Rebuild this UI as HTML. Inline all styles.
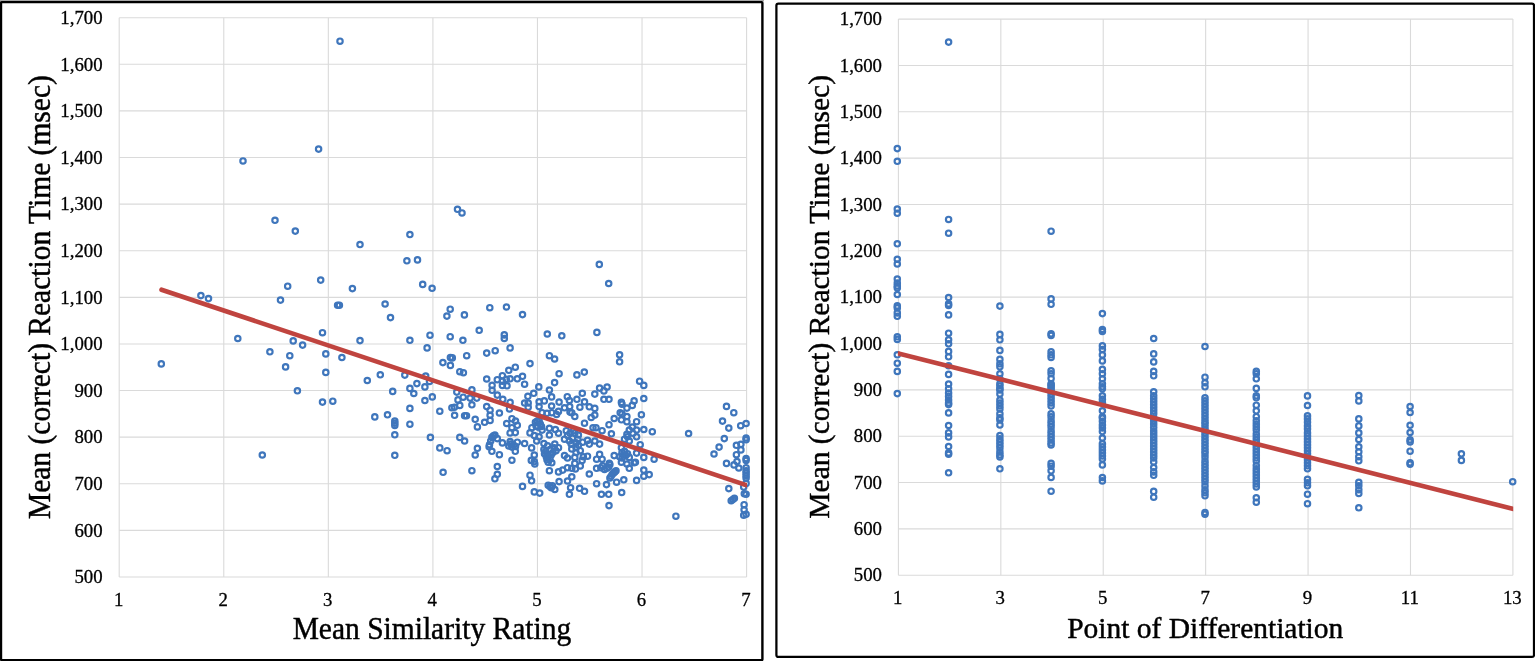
<!DOCTYPE html>
<html lang="en"><head><meta charset="utf-8"><title>Reaction time scatter plots</title>
<style>
html,body{margin:0;padding:0;background:#fff;}
body{width:1535px;height:661px;overflow:hidden;}
svg{display:block;}
text{font-family:"Liberation Serif","Times New Roman",serif;fill:#000;}
.t{font-size:18.8px;stroke:#000;stroke-width:0.3px;}
.ax{font-size:29.5px;stroke:#000;stroke-width:0.45px;}
.g{stroke:#dadada;stroke-width:1.1;fill:none;}
.p circle{fill:none;stroke:#3f76bc;stroke-width:2.15;}
.tr{stroke:#c0443f;stroke-width:4.6;fill:none;}
</style></head><body>
<svg width="1535" height="661" viewBox="0 0 1535 661">
<rect x="0" y="0" width="1535" height="661" fill="#fff"/>
<rect x="0" y="0" width="764" height="1.3" fill="#a6a6a6"/>
<rect x="1.0" y="2.1" width="761.4" height="658.0" rx="0.8" fill="none" stroke="#000" stroke-width="2.4"/>
<rect x="776.4" y="3.5" width="757.6" height="653.4" rx="2" fill="none" stroke="#000" stroke-width="2.25"/>
<g class="g"><line x1="119.20" y1="17.70" x2="119.20" y2="577.00"/><line x1="223.77" y1="17.70" x2="223.77" y2="577.00"/><line x1="328.33" y1="17.70" x2="328.33" y2="577.00"/><line x1="432.90" y1="17.70" x2="432.90" y2="577.00"/><line x1="537.47" y1="17.70" x2="537.47" y2="577.00"/><line x1="642.03" y1="17.70" x2="642.03" y2="577.00"/><line x1="746.60" y1="17.70" x2="746.60" y2="577.00"/><line x1="119.20" y1="17.70" x2="746.60" y2="17.70"/><line x1="119.20" y1="64.31" x2="746.60" y2="64.31"/><line x1="119.20" y1="110.92" x2="746.60" y2="110.92"/><line x1="119.20" y1="157.52" x2="746.60" y2="157.52"/><line x1="119.20" y1="204.13" x2="746.60" y2="204.13"/><line x1="119.20" y1="250.74" x2="746.60" y2="250.74"/><line x1="119.20" y1="297.35" x2="746.60" y2="297.35"/><line x1="119.20" y1="343.96" x2="746.60" y2="343.96"/><line x1="119.20" y1="390.57" x2="746.60" y2="390.57"/><line x1="119.20" y1="437.17" x2="746.60" y2="437.17"/><line x1="119.20" y1="483.78" x2="746.60" y2="483.78"/><line x1="119.20" y1="530.39" x2="746.60" y2="530.39"/><line x1="119.20" y1="577.00" x2="746.60" y2="577.00"/></g>
<g class="t" text-anchor="end"><text transform="translate(102.6,24.00) scale(1,1.020)">1,700</text><text transform="translate(102.6,70.61) scale(1,1.020)">1,600</text><text transform="translate(102.6,117.22) scale(1,1.020)">1,500</text><text transform="translate(102.6,163.82) scale(1,1.020)">1,400</text><text transform="translate(102.6,210.43) scale(1,1.020)">1,300</text><text transform="translate(102.6,257.04) scale(1,1.020)">1,200</text><text transform="translate(102.6,303.65) scale(1,1.020)">1,100</text><text transform="translate(102.6,350.26) scale(1,1.020)">1,000</text><text transform="translate(102.6,396.87) scale(1,1.020)">900</text><text transform="translate(102.6,443.47) scale(1,1.020)">800</text><text transform="translate(102.6,490.08) scale(1,1.020)">700</text><text transform="translate(102.6,536.69) scale(1,1.020)">600</text><text transform="translate(102.6,583.30) scale(1,1.020)">500</text></g>
<g class="t" text-anchor="middle"><text transform="translate(118.6,605.9) scale(1,1.020)">1</text><text transform="translate(223.2,605.9) scale(1,1.020)">2</text><text transform="translate(327.7,605.9) scale(1,1.020)">3</text><text transform="translate(432.3,605.9) scale(1,1.020)">4</text><text transform="translate(536.9,605.9) scale(1,1.020)">5</text><text transform="translate(641.4,605.9) scale(1,1.020)">6</text><text transform="translate(746.0,605.9) scale(1,1.020)">7</text></g>
<text class="ax" text-anchor="middle" transform="translate(431.9,639.3) scale(1,1.035)">Mean Similarity Rating</text>
<text class="ax" text-anchor="middle" transform="translate(50.3,297.1) rotate(-90) scale(1,1.035)">Mean (correct) Reaction Time (msec)</text>
<g class="p"><circle cx="340.0" cy="41.2" r="2.7"/><circle cx="318.6" cy="149.1" r="2.7"/><circle cx="243.0" cy="160.9" r="2.7"/><circle cx="275.0" cy="220.3" r="2.7"/><circle cx="295.3" cy="231.1" r="2.7"/><circle cx="360.0" cy="244.5" r="2.7"/><circle cx="409.9" cy="234.5" r="2.7"/><circle cx="406.9" cy="260.8" r="2.7"/><circle cx="417.5" cy="259.9" r="2.7"/><circle cx="320.7" cy="280.1" r="2.7"/><circle cx="287.7" cy="286.2" r="2.7"/><circle cx="352.4" cy="288.6" r="2.7"/><circle cx="200.9" cy="295.6" r="2.7"/><circle cx="208.5" cy="298.6" r="2.7"/><circle cx="280.5" cy="300.1" r="2.7"/><circle cx="337.6" cy="305.2" r="2.7"/><circle cx="339.4" cy="305.2" r="2.7"/><circle cx="385.1" cy="304.0" r="2.7"/><circle cx="390.5" cy="317.6" r="2.7"/><circle cx="322.5" cy="332.7" r="2.7"/><circle cx="237.8" cy="338.5" r="2.7"/><circle cx="293.2" cy="340.9" r="2.7"/><circle cx="302.6" cy="345.1" r="2.7"/><circle cx="360.0" cy="340.6" r="2.7"/><circle cx="409.9" cy="340.3" r="2.7"/><circle cx="269.9" cy="351.8" r="2.7"/><circle cx="289.8" cy="355.7" r="2.7"/><circle cx="325.8" cy="353.9" r="2.7"/><circle cx="341.9" cy="357.5" r="2.7"/><circle cx="161.3" cy="363.9" r="2.7"/><circle cx="285.6" cy="366.9" r="2.7"/><circle cx="325.8" cy="372.4" r="2.7"/><circle cx="380.3" cy="374.8" r="2.7"/><circle cx="367.3" cy="380.5" r="2.7"/><circle cx="404.8" cy="375.1" r="2.7"/><circle cx="297.4" cy="390.8" r="2.7"/><circle cx="392.7" cy="391.4" r="2.7"/><circle cx="409.9" cy="388.4" r="2.7"/><circle cx="413.8" cy="393.5" r="2.7"/><circle cx="416.9" cy="383.6" r="2.7"/><circle cx="322.5" cy="402.1" r="2.7"/><circle cx="332.8" cy="401.2" r="2.7"/><circle cx="409.9" cy="408.4" r="2.7"/><circle cx="374.8" cy="416.9" r="2.7"/><circle cx="387.5" cy="414.8" r="2.7"/><circle cx="394.8" cy="421.1" r="2.7"/><circle cx="394.8" cy="423.3" r="2.7"/><circle cx="394.8" cy="425.4" r="2.7"/><circle cx="409.9" cy="424.2" r="2.7"/><circle cx="394.8" cy="434.8" r="2.7"/><circle cx="394.8" cy="455.3" r="2.7"/><circle cx="262.3" cy="455.0" r="2.7"/><circle cx="457.5" cy="209.3" r="2.7"/><circle cx="462.0" cy="212.9" r="2.7"/><circle cx="422.7" cy="284.4" r="2.7"/><circle cx="432.1" cy="288.3" r="2.7"/><circle cx="599.3" cy="264.4" r="2.7"/><circle cx="608.7" cy="283.5" r="2.7"/><circle cx="450.2" cy="309.2" r="2.7"/><circle cx="446.9" cy="316.1" r="2.7"/><circle cx="464.4" cy="314.9" r="2.7"/><circle cx="489.8" cy="307.7" r="2.7"/><circle cx="506.5" cy="307.0" r="2.7"/><circle cx="522.5" cy="314.6" r="2.7"/><circle cx="479.2" cy="330.3" r="2.7"/><circle cx="430.0" cy="335.2" r="2.7"/><circle cx="450.2" cy="336.7" r="2.7"/><circle cx="462.9" cy="340.3" r="2.7"/><circle cx="504.3" cy="334.9" r="2.7"/><circle cx="504.3" cy="338.5" r="2.7"/><circle cx="547.3" cy="334.0" r="2.7"/><circle cx="561.8" cy="335.8" r="2.7"/><circle cx="596.9" cy="332.4" r="2.7"/><circle cx="427.1" cy="347.9" r="2.7"/><circle cx="510.1" cy="347.9" r="2.7"/><circle cx="495.2" cy="350.7" r="2.7"/><circle cx="486.7" cy="353.1" r="2.7"/><circle cx="466.7" cy="355.7" r="2.7"/><circle cx="450.4" cy="357.6" r="2.7"/><circle cx="452.3" cy="357.9" r="2.7"/><circle cx="442.9" cy="362.6" r="2.7"/><circle cx="450.4" cy="365.4" r="2.7"/><circle cx="530.0" cy="363.6" r="2.7"/><circle cx="515.3" cy="367.2" r="2.7"/><circle cx="508.8" cy="370.3" r="2.7"/><circle cx="459.8" cy="371.7" r="2.7"/><circle cx="463.4" cy="372.7" r="2.7"/><circle cx="502.4" cy="375.7" r="2.7"/><circle cx="522.5" cy="376.3" r="2.7"/><circle cx="486.7" cy="379.0" r="2.7"/><circle cx="497.3" cy="379.7" r="2.7"/><circle cx="510.1" cy="378.8" r="2.7"/><circle cx="506.4" cy="379.4" r="2.7"/><circle cx="517.3" cy="378.8" r="2.7"/><circle cx="524.6" cy="384.2" r="2.7"/><circle cx="492.1" cy="385.4" r="2.7"/><circle cx="492.1" cy="390.3" r="2.7"/><circle cx="425.7" cy="376.1" r="2.7"/><circle cx="429.5" cy="381.4" r="2.7"/><circle cx="424.9" cy="386.9" r="2.7"/><circle cx="432.3" cy="396.9" r="2.7"/><circle cx="424.9" cy="400.5" r="2.7"/><circle cx="471.9" cy="389.9" r="2.7"/><circle cx="456.8" cy="392.1" r="2.7"/><circle cx="463.2" cy="397.2" r="2.7"/><circle cx="470.1" cy="398.1" r="2.7"/><circle cx="476.8" cy="398.1" r="2.7"/><circle cx="458.0" cy="399.9" r="2.7"/><circle cx="459.8" cy="405.4" r="2.7"/><circle cx="471.9" cy="404.8" r="2.7"/><circle cx="451.9" cy="407.8" r="2.7"/><circle cx="454.4" cy="407.2" r="2.7"/><circle cx="439.8" cy="411.2" r="2.7"/><circle cx="454.6" cy="415.3" r="2.7"/><circle cx="464.6" cy="415.7" r="2.7"/><circle cx="466.5" cy="415.7" r="2.7"/><circle cx="475.2" cy="419.3" r="2.7"/><circle cx="486.7" cy="406.6" r="2.7"/><circle cx="490.1" cy="410.2" r="2.7"/><circle cx="490.1" cy="415.3" r="2.7"/><circle cx="499.4" cy="413.0" r="2.7"/><circle cx="497.3" cy="395.1" r="2.7"/><circle cx="502.8" cy="399.3" r="2.7"/><circle cx="510.1" cy="402.4" r="2.7"/><circle cx="509.5" cy="409.0" r="2.7"/><circle cx="527.9" cy="396.3" r="2.7"/><circle cx="533.7" cy="393.3" r="2.7"/><circle cx="524.6" cy="403.0" r="2.7"/><circle cx="528.2" cy="403.0" r="2.7"/><circle cx="528.2" cy="407.2" r="2.7"/><circle cx="511.9" cy="418.7" r="2.7"/><circle cx="502.4" cy="381.2" r="2.7"/><circle cx="502.4" cy="385.4" r="2.7"/><circle cx="507.0" cy="385.8" r="2.7"/><circle cx="549.4" cy="355.7" r="2.7"/><circle cx="554.6" cy="359.0" r="2.7"/><circle cx="619.6" cy="354.8" r="2.7"/><circle cx="619.6" cy="361.8" r="2.7"/><circle cx="559.1" cy="373.7" r="2.7"/><circle cx="576.9" cy="374.9" r="2.7"/><circle cx="584.3" cy="372.1" r="2.7"/><circle cx="554.6" cy="382.6" r="2.7"/><circle cx="639.6" cy="381.2" r="2.7"/><circle cx="643.8" cy="385.4" r="2.7"/><circle cx="538.8" cy="386.9" r="2.7"/><circle cx="549.4" cy="390.0" r="2.7"/><circle cx="599.6" cy="388.1" r="2.7"/><circle cx="607.1" cy="387.0" r="2.7"/><circle cx="603.9" cy="390.9" r="2.7"/><circle cx="582.3" cy="393.3" r="2.7"/><circle cx="594.8" cy="394.1" r="2.7"/><circle cx="551.6" cy="396.9" r="2.7"/><circle cx="567.3" cy="396.7" r="2.7"/><circle cx="569.4" cy="400.5" r="2.7"/><circle cx="576.9" cy="399.3" r="2.7"/><circle cx="584.5" cy="401.8" r="2.7"/><circle cx="603.9" cy="399.3" r="2.7"/><circle cx="609.0" cy="399.3" r="2.7"/><circle cx="643.8" cy="398.5" r="2.7"/><circle cx="539.1" cy="401.8" r="2.7"/><circle cx="544.3" cy="400.9" r="2.7"/><circle cx="559.1" cy="402.1" r="2.7"/><circle cx="551.6" cy="406.0" r="2.7"/><circle cx="539.1" cy="406.6" r="2.7"/><circle cx="564.5" cy="407.8" r="2.7"/><circle cx="569.7" cy="406.6" r="2.7"/><circle cx="579.9" cy="407.2" r="2.7"/><circle cx="589.3" cy="406.8" r="2.7"/><circle cx="594.8" cy="408.4" r="2.7"/><circle cx="621.4" cy="402.4" r="2.7"/><circle cx="622.0" cy="404.2" r="2.7"/><circle cx="634.1" cy="400.9" r="2.7"/><circle cx="632.3" cy="405.4" r="2.7"/><circle cx="626.9" cy="408.1" r="2.7"/><circle cx="542.1" cy="412.7" r="2.7"/><circle cx="547.0" cy="413.3" r="2.7"/><circle cx="551.8" cy="412.7" r="2.7"/><circle cx="558.5" cy="411.4" r="2.7"/><circle cx="556.6" cy="414.5" r="2.7"/><circle cx="570.0" cy="412.1" r="2.7"/><circle cx="571.8" cy="412.7" r="2.7"/><circle cx="574.8" cy="416.5" r="2.7"/><circle cx="594.8" cy="415.1" r="2.7"/><circle cx="591.2" cy="417.5" r="2.7"/><circle cx="620.2" cy="412.7" r="2.7"/><circle cx="622.0" cy="413.9" r="2.7"/><circle cx="626.9" cy="416.5" r="2.7"/><circle cx="614.2" cy="418.5" r="2.7"/><circle cx="641.4" cy="414.7" r="2.7"/><circle cx="726.5" cy="406.4" r="2.7"/><circle cx="733.8" cy="412.7" r="2.7"/><circle cx="490.1" cy="420.4" r="2.7"/><circle cx="484.6" cy="422.3" r="2.7"/><circle cx="477.4" cy="426.9" r="2.7"/><circle cx="506.7" cy="423.5" r="2.7"/><circle cx="515.5" cy="421.1" r="2.7"/><circle cx="517.3" cy="425.3" r="2.7"/><circle cx="511.9" cy="427.7" r="2.7"/><circle cx="510.1" cy="432.9" r="2.7"/><circle cx="515.3" cy="432.6" r="2.7"/><circle cx="531.9" cy="427.7" r="2.7"/><circle cx="530.0" cy="432.9" r="2.7"/><circle cx="534.3" cy="435.6" r="2.7"/><circle cx="430.4" cy="437.4" r="2.7"/><circle cx="459.8" cy="437.4" r="2.7"/><circle cx="464.6" cy="441.0" r="2.7"/><circle cx="494.9" cy="435.0" r="2.7"/><circle cx="491.9" cy="437.4" r="2.7"/><circle cx="497.3" cy="438.6" r="2.7"/><circle cx="489.5" cy="444.7" r="2.7"/><circle cx="491.9" cy="451.3" r="2.7"/><circle cx="502.4" cy="442.9" r="2.7"/><circle cx="510.1" cy="441.6" r="2.7"/><circle cx="508.8" cy="445.9" r="2.7"/><circle cx="511.9" cy="447.1" r="2.7"/><circle cx="517.3" cy="442.2" r="2.7"/><circle cx="515.5" cy="446.5" r="2.7"/><circle cx="515.3" cy="451.3" r="2.7"/><circle cx="524.6" cy="443.5" r="2.7"/><circle cx="531.6" cy="447.9" r="2.7"/><circle cx="439.8" cy="447.9" r="2.7"/><circle cx="447.1" cy="450.7" r="2.7"/><circle cx="477.4" cy="448.3" r="2.7"/><circle cx="475.2" cy="455.0" r="2.7"/><circle cx="499.4" cy="454.7" r="2.7"/><circle cx="511.9" cy="460.2" r="2.7"/><circle cx="534.3" cy="455.0" r="2.7"/><circle cx="531.3" cy="460.4" r="2.7"/><circle cx="534.3" cy="461.6" r="2.7"/><circle cx="497.3" cy="466.5" r="2.7"/><circle cx="443.1" cy="472.3" r="2.7"/><circle cx="471.9" cy="470.7" r="2.7"/><circle cx="497.3" cy="474.3" r="2.7"/><circle cx="494.9" cy="478.8" r="2.7"/><circle cx="530.0" cy="475.2" r="2.7"/><circle cx="531.6" cy="480.8" r="2.7"/><circle cx="522.5" cy="486.4" r="2.7"/><circle cx="534.3" cy="491.9" r="2.7"/><circle cx="542.1" cy="430.1" r="2.7"/><circle cx="539.1" cy="436.8" r="2.7"/><circle cx="536.7" cy="441.0" r="2.7"/><circle cx="534.8" cy="464.0" r="2.7"/><circle cx="539.7" cy="493.1" r="2.7"/><circle cx="537.3" cy="421.1" r="2.7"/><circle cx="540.3" cy="424.1" r="2.7"/><circle cx="536.1" cy="425.9" r="2.7"/><circle cx="549.4" cy="428.3" r="2.7"/><circle cx="555.4" cy="429.5" r="2.7"/><circle cx="549.4" cy="435.0" r="2.7"/><circle cx="558.5" cy="433.2" r="2.7"/><circle cx="543.9" cy="443.5" r="2.7"/><circle cx="547.6" cy="445.9" r="2.7"/><circle cx="554.8" cy="444.1" r="2.7"/><circle cx="543.9" cy="449.5" r="2.7"/><circle cx="558.5" cy="447.7" r="2.7"/><circle cx="544.5" cy="453.8" r="2.7"/><circle cx="548.2" cy="456.2" r="2.7"/><circle cx="553.0" cy="452.5" r="2.7"/><circle cx="556.0" cy="450.7" r="2.7"/><circle cx="547.0" cy="459.8" r="2.7"/><circle cx="551.8" cy="462.8" r="2.7"/><circle cx="549.4" cy="470.7" r="2.7"/><circle cx="558.5" cy="471.9" r="2.7"/><circle cx="559.1" cy="481.6" r="2.7"/><circle cx="550.0" cy="486.4" r="2.7"/><circle cx="552.4" cy="485.8" r="2.7"/><circle cx="554.8" cy="489.5" r="2.7"/><circle cx="584.5" cy="423.2" r="2.7"/><circle cx="566.3" cy="430.7" r="2.7"/><circle cx="570.0" cy="433.2" r="2.7"/><circle cx="574.8" cy="433.2" r="2.7"/><circle cx="578.4" cy="435.0" r="2.7"/><circle cx="564.5" cy="439.2" r="2.7"/><circle cx="569.4" cy="441.0" r="2.7"/><circle cx="576.0" cy="442.9" r="2.7"/><circle cx="582.7" cy="442.2" r="2.7"/><circle cx="587.5" cy="440.4" r="2.7"/><circle cx="571.8" cy="448.9" r="2.7"/><circle cx="576.0" cy="447.7" r="2.7"/><circle cx="580.3" cy="450.7" r="2.7"/><circle cx="576.0" cy="452.5" r="2.7"/><circle cx="564.5" cy="455.6" r="2.7"/><circle cx="567.5" cy="458.0" r="2.7"/><circle cx="574.8" cy="457.4" r="2.7"/><circle cx="583.3" cy="456.8" r="2.7"/><circle cx="587.5" cy="456.2" r="2.7"/><circle cx="582.1" cy="460.4" r="2.7"/><circle cx="574.8" cy="463.4" r="2.7"/><circle cx="580.3" cy="465.9" r="2.7"/><circle cx="567.5" cy="467.7" r="2.7"/><circle cx="571.8" cy="468.3" r="2.7"/><circle cx="562.7" cy="470.1" r="2.7"/><circle cx="575.4" cy="468.9" r="2.7"/><circle cx="571.8" cy="476.8" r="2.7"/><circle cx="567.5" cy="481.0" r="2.7"/><circle cx="579.6" cy="488.3" r="2.7"/><circle cx="584.5" cy="491.3" r="2.7"/><circle cx="569.4" cy="494.3" r="2.7"/><circle cx="593.0" cy="427.7" r="2.7"/><circle cx="596.0" cy="427.7" r="2.7"/><circle cx="602.1" cy="430.7" r="2.7"/><circle cx="609.0" cy="424.7" r="2.7"/><circle cx="611.4" cy="433.8" r="2.7"/><circle cx="589.3" cy="444.1" r="2.7"/><circle cx="594.8" cy="441.0" r="2.7"/><circle cx="599.6" cy="444.1" r="2.7"/><circle cx="599.6" cy="454.4" r="2.7"/><circle cx="596.6" cy="459.2" r="2.7"/><circle cx="602.1" cy="459.2" r="2.7"/><circle cx="609.3" cy="463.4" r="2.7"/><circle cx="596.6" cy="468.3" r="2.7"/><circle cx="600.8" cy="467.7" r="2.7"/><circle cx="604.5" cy="469.5" r="2.7"/><circle cx="608.7" cy="467.1" r="2.7"/><circle cx="589.3" cy="474.0" r="2.7"/><circle cx="596.6" cy="483.7" r="2.7"/><circle cx="606.5" cy="484.6" r="2.7"/><circle cx="601.4" cy="494.3" r="2.7"/><circle cx="608.7" cy="494.3" r="2.7"/><circle cx="614.2" cy="455.6" r="2.7"/><circle cx="614.8" cy="471.9" r="2.7"/><circle cx="612.3" cy="474.3" r="2.7"/><circle cx="609.9" cy="478.0" r="2.7"/><circle cx="616.6" cy="482.2" r="2.7"/><circle cx="621.4" cy="419.8" r="2.7"/><circle cx="626.9" cy="421.7" r="2.7"/><circle cx="636.6" cy="421.7" r="2.7"/><circle cx="632.3" cy="427.1" r="2.7"/><circle cx="636.6" cy="430.1" r="2.7"/><circle cx="643.8" cy="429.5" r="2.7"/><circle cx="629.3" cy="430.1" r="2.7"/><circle cx="632.9" cy="433.2" r="2.7"/><circle cx="636.6" cy="436.8" r="2.7"/><circle cx="626.9" cy="434.4" r="2.7"/><circle cx="624.5" cy="439.2" r="2.7"/><circle cx="629.3" cy="441.0" r="2.7"/><circle cx="621.4" cy="447.7" r="2.7"/><circle cx="624.5" cy="451.3" r="2.7"/><circle cx="622.0" cy="452.5" r="2.7"/><circle cx="619.6" cy="456.8" r="2.7"/><circle cx="625.7" cy="455.6" r="2.7"/><circle cx="629.3" cy="457.4" r="2.7"/><circle cx="621.4" cy="462.2" r="2.7"/><circle cx="626.9" cy="464.0" r="2.7"/><circle cx="635.4" cy="462.2" r="2.7"/><circle cx="629.3" cy="468.3" r="2.7"/><circle cx="636.6" cy="453.1" r="2.7"/><circle cx="643.8" cy="457.4" r="2.7"/><circle cx="640.2" cy="444.7" r="2.7"/><circle cx="643.8" cy="470.1" r="2.7"/><circle cx="643.8" cy="476.2" r="2.7"/><circle cx="623.8" cy="479.8" r="2.7"/><circle cx="636.6" cy="480.4" r="2.7"/><circle cx="621.7" cy="492.5" r="2.7"/><circle cx="722.5" cy="421.1" r="2.7"/><circle cx="746.1" cy="423.5" r="2.7"/><circle cx="740.7" cy="425.7" r="2.7"/><circle cx="728.8" cy="428.1" r="2.7"/><circle cx="652.3" cy="431.7" r="2.7"/><circle cx="688.6" cy="433.5" r="2.7"/><circle cx="724.3" cy="438.6" r="2.7"/><circle cx="746.1" cy="438.0" r="2.7"/><circle cx="746.1" cy="439.8" r="2.7"/><circle cx="736.4" cy="445.3" r="2.7"/><circle cx="740.9" cy="444.3" r="2.7"/><circle cx="740.9" cy="449.9" r="2.7"/><circle cx="719.1" cy="447.1" r="2.7"/><circle cx="714.0" cy="454.0" r="2.7"/><circle cx="736.4" cy="454.7" r="2.7"/><circle cx="746.1" cy="458.6" r="2.7"/><circle cx="746.1" cy="460.4" r="2.7"/><circle cx="654.1" cy="459.2" r="2.7"/><circle cx="726.5" cy="463.4" r="2.7"/><circle cx="734.0" cy="464.9" r="2.7"/><circle cx="737.0" cy="461.6" r="2.7"/><circle cx="738.8" cy="468.0" r="2.7"/><circle cx="746.1" cy="467.7" r="2.7"/><circle cx="746.1" cy="470.7" r="2.7"/><circle cx="746.1" cy="473.1" r="2.7"/><circle cx="746.1" cy="475.5" r="2.7"/><circle cx="746.1" cy="478.0" r="2.7"/><circle cx="649.2" cy="474.6" r="2.7"/><circle cx="746.1" cy="483.4" r="2.7"/><circle cx="743.7" cy="487.1" r="2.7"/><circle cx="728.8" cy="488.6" r="2.7"/><circle cx="744.3" cy="493.7" r="2.7"/><circle cx="746.1" cy="494.3" r="2.7"/><circle cx="609.0" cy="505.6" r="2.7"/><circle cx="731.2" cy="500.7" r="2.7"/><circle cx="732.8" cy="499.5" r="2.7"/><circle cx="734.4" cy="498.3" r="2.7"/><circle cx="744.1" cy="504.7" r="2.7"/><circle cx="744.1" cy="509.8" r="2.7"/><circle cx="743.7" cy="515.3" r="2.7"/><circle cx="746.1" cy="514.3" r="2.7"/><circle cx="675.9" cy="516.2" r="2.7"/><circle cx="535.4" cy="422.3" r="2.7"/><circle cx="539.1" cy="420.4" r="2.7"/><circle cx="541.5" cy="426.5" r="2.7"/><circle cx="537.9" cy="427.1" r="2.7"/><circle cx="545.7" cy="451.3" r="2.7"/><circle cx="550.0" cy="449.5" r="2.7"/><circle cx="551.2" cy="455.0" r="2.7"/><circle cx="548.2" cy="462.2" r="2.7"/><circle cx="554.2" cy="447.7" r="2.7"/><circle cx="546.3" cy="456.8" r="2.7"/><circle cx="550.0" cy="459.2" r="2.7"/><circle cx="567.5" cy="435.6" r="2.7"/><circle cx="572.4" cy="438.0" r="2.7"/><circle cx="577.8" cy="439.2" r="2.7"/><circle cx="571.2" cy="444.1" r="2.7"/><circle cx="573.6" cy="430.7" r="2.7"/><circle cx="578.4" cy="445.3" r="2.7"/><circle cx="623.2" cy="455.0" r="2.7"/><circle cx="627.5" cy="453.8" r="2.7"/><circle cx="622.0" cy="458.0" r="2.7"/><circle cx="613.6" cy="473.1" r="2.7"/><circle cx="611.1" cy="476.2" r="2.7"/><circle cx="616.0" cy="470.7" r="2.7"/><circle cx="602.7" cy="465.9" r="2.7"/><circle cx="606.9" cy="468.3" r="2.7"/><circle cx="609.9" cy="464.6" r="2.7"/><circle cx="551.2" cy="487.7" r="2.7"/><circle cx="548.2" cy="485.2" r="2.7"/><circle cx="634.1" cy="462.8" r="2.7"/><circle cx="627.5" cy="436.8" r="2.7"/><circle cx="570.6" cy="487.7" r="2.7"/><circle cx="490.7" cy="441.0" r="2.7"/><circle cx="489.1" cy="446.7" r="2.7"/><circle cx="493.5" cy="435.8" r="2.7"/><circle cx="510.7" cy="444.1" r="2.7"/><circle cx="513.7" cy="445.3" r="2.7"/></g>
<clipPath id="cl"><rect x="100" y="0" width="646.9" height="661"/></clipPath>
<line class="tr" clip-path="url(#cl)" stroke-linecap="round" x1="161.5" y1="289.7" x2="749.5" y2="486.2"/>
<g class="g"><line x1="898.40" y1="19.10" x2="898.40" y2="575.20"/><line x1="1000.82" y1="19.10" x2="1000.82" y2="575.20"/><line x1="1103.23" y1="19.10" x2="1103.23" y2="575.20"/><line x1="1205.65" y1="19.10" x2="1205.65" y2="575.20"/><line x1="1308.07" y1="19.10" x2="1308.07" y2="575.20"/><line x1="1410.48" y1="19.10" x2="1410.48" y2="575.20"/><line x1="1512.90" y1="19.10" x2="1512.90" y2="575.20"/><line x1="898.40" y1="19.10" x2="1512.90" y2="19.10"/><line x1="898.40" y1="65.44" x2="1512.90" y2="65.44"/><line x1="898.40" y1="111.78" x2="1512.90" y2="111.78"/><line x1="898.40" y1="158.12" x2="1512.90" y2="158.12"/><line x1="898.40" y1="204.47" x2="1512.90" y2="204.47"/><line x1="898.40" y1="250.81" x2="1512.90" y2="250.81"/><line x1="898.40" y1="297.15" x2="1512.90" y2="297.15"/><line x1="898.40" y1="343.49" x2="1512.90" y2="343.49"/><line x1="898.40" y1="389.83" x2="1512.90" y2="389.83"/><line x1="898.40" y1="436.18" x2="1512.90" y2="436.18"/><line x1="898.40" y1="482.52" x2="1512.90" y2="482.52"/><line x1="898.40" y1="528.86" x2="1512.90" y2="528.86"/><line x1="898.40" y1="575.20" x2="1512.90" y2="575.20"/></g>
<g class="t" text-anchor="end"><text transform="translate(882.0,25.20) scale(1,1.020)">1,700</text><text transform="translate(882.0,71.54) scale(1,1.020)">1,600</text><text transform="translate(882.0,117.88) scale(1,1.020)">1,500</text><text transform="translate(882.0,164.22) scale(1,1.020)">1,400</text><text transform="translate(882.0,210.57) scale(1,1.020)">1,300</text><text transform="translate(882.0,256.91) scale(1,1.020)">1,200</text><text transform="translate(882.0,303.25) scale(1,1.020)">1,100</text><text transform="translate(882.0,349.59) scale(1,1.020)">1,000</text><text transform="translate(882.0,395.93) scale(1,1.020)">900</text><text transform="translate(882.0,442.28) scale(1,1.020)">800</text><text transform="translate(882.0,488.62) scale(1,1.020)">700</text><text transform="translate(882.0,534.96) scale(1,1.020)">600</text><text transform="translate(882.0,581.30) scale(1,1.020)">500</text></g>
<g class="t" text-anchor="middle"><text transform="translate(897.8,603.7) scale(1,1.020)">1</text><text transform="translate(1000.2,603.7) scale(1,1.020)">3</text><text transform="translate(1102.6,603.7) scale(1,1.020)">5</text><text transform="translate(1205.1,603.7) scale(1,1.020)">7</text><text transform="translate(1307.5,603.7) scale(1,1.020)">9</text><text transform="translate(1409.9,603.7) scale(1,1.020)">11</text><text transform="translate(1512.3,603.7) scale(1,1.020)">13</text></g>
<text class="ax" text-anchor="middle" transform="translate(1205.2,637.6) scale(1,1.010)">Point of Differentiation</text>
<text class="ax" text-anchor="middle" transform="translate(829.0,296.8) rotate(-90) scale(1,1.010)">Mean (correct) Reaction Time (msec)</text>
<g class="p"><circle cx="897.3" cy="148.6" r="2.7"/><circle cx="897.3" cy="161.3" r="2.7"/><circle cx="897.3" cy="209.0" r="2.7"/><circle cx="897.3" cy="213.2" r="2.7"/><circle cx="897.3" cy="243.8" r="2.7"/><circle cx="897.3" cy="259.3" r="2.7"/><circle cx="897.3" cy="264.0" r="2.7"/><circle cx="897.3" cy="279.0" r="2.7"/><circle cx="897.3" cy="283.0" r="2.7"/><circle cx="897.3" cy="285.9" r="2.7"/><circle cx="897.3" cy="287.9" r="2.7"/><circle cx="897.3" cy="294.5" r="2.7"/><circle cx="897.3" cy="305.9" r="2.7"/><circle cx="897.3" cy="307.9" r="2.7"/><circle cx="897.3" cy="312.9" r="2.7"/><circle cx="897.3" cy="316.3" r="2.7"/><circle cx="897.3" cy="336.8" r="2.7"/><circle cx="897.3" cy="339.4" r="2.7"/><circle cx="897.3" cy="354.8" r="2.7"/><circle cx="897.3" cy="363.2" r="2.7"/><circle cx="897.3" cy="371.4" r="2.7"/><circle cx="897.3" cy="393.6" r="2.7"/><circle cx="948.6" cy="42.1" r="2.7"/><circle cx="948.6" cy="219.4" r="2.7"/><circle cx="948.6" cy="233.2" r="2.7"/><circle cx="948.6" cy="297.5" r="2.7"/><circle cx="948.6" cy="303.9" r="2.7"/><circle cx="948.6" cy="305.5" r="2.7"/><circle cx="948.6" cy="314.9" r="2.7"/><circle cx="948.6" cy="333.2" r="2.7"/><circle cx="948.6" cy="339.8" r="2.7"/><circle cx="948.6" cy="343.8" r="2.7"/><circle cx="948.6" cy="351.4" r="2.7"/><circle cx="948.6" cy="356.8" r="2.7"/><circle cx="948.6" cy="365.8" r="2.7"/><circle cx="948.6" cy="374.4" r="2.7"/><circle cx="948.6" cy="384.1" r="2.7"/><circle cx="948.6" cy="388.7" r="2.7"/><circle cx="948.6" cy="393.0" r="2.7"/><circle cx="948.6" cy="396.4" r="2.7"/><circle cx="948.6" cy="400.0" r="2.7"/><circle cx="948.6" cy="403.0" r="2.7"/><circle cx="948.6" cy="404.6" r="2.7"/><circle cx="948.6" cy="412.9" r="2.7"/><circle cx="948.6" cy="425.5" r="2.7"/><circle cx="948.6" cy="432.9" r="2.7"/><circle cx="948.6" cy="436.9" r="2.7"/><circle cx="948.6" cy="446.5" r="2.7"/><circle cx="948.6" cy="452.9" r="2.7"/><circle cx="948.6" cy="454.3" r="2.7"/><circle cx="948.6" cy="472.8" r="2.7"/><circle cx="999.9" cy="306.1" r="2.7"/><circle cx="999.9" cy="334.4" r="2.7"/><circle cx="999.9" cy="339.8" r="2.7"/><circle cx="999.9" cy="350.4" r="2.7"/><circle cx="999.9" cy="359.4" r="2.7"/><circle cx="999.9" cy="363.8" r="2.7"/><circle cx="999.9" cy="366.8" r="2.7"/><circle cx="999.9" cy="373.8" r="2.7"/><circle cx="999.9" cy="378.8" r="2.7"/><circle cx="999.9" cy="383.7" r="2.7"/><circle cx="999.9" cy="386.0" r="2.7"/><circle cx="999.9" cy="388.7" r="2.7"/><circle cx="999.9" cy="390.0" r="2.7"/><circle cx="999.9" cy="394.0" r="2.7"/><circle cx="999.9" cy="400.0" r="2.7"/><circle cx="999.9" cy="403.0" r="2.7"/><circle cx="999.9" cy="406.0" r="2.7"/><circle cx="999.9" cy="409.0" r="2.7"/><circle cx="999.9" cy="413.9" r="2.7"/><circle cx="999.9" cy="417.9" r="2.7"/><circle cx="999.9" cy="419.9" r="2.7"/><circle cx="999.9" cy="424.9" r="2.7"/><circle cx="999.9" cy="435.5" r="2.7"/><circle cx="999.9" cy="438.9" r="2.7"/><circle cx="999.9" cy="441.9" r="2.7"/><circle cx="999.9" cy="444.9" r="2.7"/><circle cx="999.9" cy="447.9" r="2.7"/><circle cx="999.9" cy="451.9" r="2.7"/><circle cx="999.9" cy="454.9" r="2.7"/><circle cx="999.9" cy="456.9" r="2.7"/><circle cx="999.9" cy="468.8" r="2.7"/><circle cx="1051.1" cy="231.2" r="2.7"/><circle cx="1051.1" cy="298.9" r="2.7"/><circle cx="1051.1" cy="304.3" r="2.7"/><circle cx="1051.1" cy="333.8" r="2.7"/><circle cx="1051.1" cy="335.4" r="2.7"/><circle cx="1051.1" cy="351.8" r="2.7"/><circle cx="1051.1" cy="354.8" r="2.7"/><circle cx="1051.1" cy="357.4" r="2.7"/><circle cx="1051.1" cy="370.8" r="2.7"/><circle cx="1051.1" cy="373.8" r="2.7"/><circle cx="1051.1" cy="378.4" r="2.7"/><circle cx="1051.1" cy="383.7" r="2.7"/><circle cx="1051.1" cy="385.0" r="2.7"/><circle cx="1051.1" cy="386.7" r="2.7"/><circle cx="1051.1" cy="388.7" r="2.7"/><circle cx="1051.1" cy="391.0" r="2.7"/><circle cx="1051.1" cy="394.0" r="2.7"/><circle cx="1051.1" cy="397.0" r="2.7"/><circle cx="1051.1" cy="400.0" r="2.7"/><circle cx="1051.1" cy="403.0" r="2.7"/><circle cx="1051.1" cy="406.0" r="2.7"/><circle cx="1051.1" cy="413.9" r="2.7"/><circle cx="1051.1" cy="416.9" r="2.7"/><circle cx="1051.1" cy="420.9" r="2.7"/><circle cx="1051.1" cy="423.9" r="2.7"/><circle cx="1051.1" cy="426.9" r="2.7"/><circle cx="1051.1" cy="430.9" r="2.7"/><circle cx="1051.1" cy="433.9" r="2.7"/><circle cx="1051.1" cy="436.9" r="2.7"/><circle cx="1051.1" cy="439.9" r="2.7"/><circle cx="1051.1" cy="442.9" r="2.7"/><circle cx="1051.1" cy="444.9" r="2.7"/><circle cx="1051.1" cy="463.4" r="2.7"/><circle cx="1051.1" cy="466.2" r="2.7"/><circle cx="1051.1" cy="470.8" r="2.7"/><circle cx="1051.1" cy="477.4" r="2.7"/><circle cx="1051.1" cy="491.2" r="2.7"/><circle cx="1102.4" cy="313.6" r="2.7"/><circle cx="1102.4" cy="329.5" r="2.7"/><circle cx="1102.4" cy="331.5" r="2.7"/><circle cx="1102.4" cy="345.9" r="2.7"/><circle cx="1102.4" cy="349.5" r="2.7"/><circle cx="1102.4" cy="354.9" r="2.7"/><circle cx="1102.4" cy="360.9" r="2.7"/><circle cx="1102.4" cy="369.4" r="2.7"/><circle cx="1102.4" cy="373.8" r="2.7"/><circle cx="1102.4" cy="378.8" r="2.7"/><circle cx="1102.4" cy="383.8" r="2.7"/><circle cx="1102.4" cy="386.8" r="2.7"/><circle cx="1102.4" cy="388.8" r="2.7"/><circle cx="1102.4" cy="395.8" r="2.7"/><circle cx="1102.4" cy="399.4" r="2.7"/><circle cx="1102.4" cy="402.8" r="2.7"/><circle cx="1102.4" cy="410.8" r="2.7"/><circle cx="1102.4" cy="416.7" r="2.7"/><circle cx="1102.4" cy="418.0" r="2.7"/><circle cx="1102.4" cy="421.3" r="2.7"/><circle cx="1102.4" cy="425.0" r="2.7"/><circle cx="1102.4" cy="428.0" r="2.7"/><circle cx="1102.4" cy="431.6" r="2.7"/><circle cx="1102.4" cy="438.0" r="2.7"/><circle cx="1102.4" cy="443.9" r="2.7"/><circle cx="1102.4" cy="446.9" r="2.7"/><circle cx="1102.4" cy="449.9" r="2.7"/><circle cx="1102.4" cy="452.9" r="2.7"/><circle cx="1102.4" cy="455.9" r="2.7"/><circle cx="1102.4" cy="458.9" r="2.7"/><circle cx="1102.4" cy="464.9" r="2.7"/><circle cx="1102.4" cy="477.5" r="2.7"/><circle cx="1102.4" cy="480.9" r="2.7"/><circle cx="1153.7" cy="338.5" r="2.7"/><circle cx="1153.7" cy="353.9" r="2.7"/><circle cx="1153.7" cy="361.9" r="2.7"/><circle cx="1153.7" cy="371.4" r="2.7"/><circle cx="1153.7" cy="375.8" r="2.7"/><circle cx="1153.7" cy="391.8" r="2.7"/><circle cx="1153.7" cy="395.8" r="2.7"/><circle cx="1153.7" cy="398.8" r="2.7"/><circle cx="1153.7" cy="401.8" r="2.7"/><circle cx="1153.7" cy="404.8" r="2.7"/><circle cx="1153.7" cy="407.8" r="2.7"/><circle cx="1153.7" cy="410.8" r="2.7"/><circle cx="1153.7" cy="413.8" r="2.7"/><circle cx="1153.7" cy="417.7" r="2.7"/><circle cx="1153.7" cy="420.7" r="2.7"/><circle cx="1153.7" cy="424.0" r="2.7"/><circle cx="1153.7" cy="427.4" r="2.7"/><circle cx="1153.7" cy="431.0" r="2.7"/><circle cx="1153.7" cy="434.0" r="2.7"/><circle cx="1153.7" cy="437.0" r="2.7"/><circle cx="1153.7" cy="440.0" r="2.7"/><circle cx="1153.7" cy="442.9" r="2.7"/><circle cx="1153.7" cy="445.9" r="2.7"/><circle cx="1153.7" cy="448.9" r="2.7"/><circle cx="1153.7" cy="451.9" r="2.7"/><circle cx="1153.7" cy="454.9" r="2.7"/><circle cx="1153.7" cy="457.9" r="2.7"/><circle cx="1153.7" cy="461.9" r="2.7"/><circle cx="1153.7" cy="467.5" r="2.7"/><circle cx="1153.7" cy="471.9" r="2.7"/><circle cx="1153.7" cy="475.3" r="2.7"/><circle cx="1153.7" cy="491.4" r="2.7"/><circle cx="1153.7" cy="497.2" r="2.7"/><circle cx="1205.0" cy="346.5" r="2.7"/><circle cx="1205.0" cy="377.2" r="2.7"/><circle cx="1205.0" cy="382.8" r="2.7"/><circle cx="1205.0" cy="386.8" r="2.7"/><circle cx="1205.0" cy="397.8" r="2.7"/><circle cx="1205.0" cy="400.8" r="2.7"/><circle cx="1205.0" cy="403.8" r="2.7"/><circle cx="1205.0" cy="406.8" r="2.7"/><circle cx="1205.0" cy="409.8" r="2.7"/><circle cx="1205.0" cy="412.8" r="2.7"/><circle cx="1205.0" cy="415.7" r="2.7"/><circle cx="1205.0" cy="418.7" r="2.7"/><circle cx="1205.0" cy="421.7" r="2.7"/><circle cx="1205.0" cy="424.0" r="2.7"/><circle cx="1205.0" cy="427.0" r="2.7"/><circle cx="1205.0" cy="430.0" r="2.7"/><circle cx="1205.0" cy="433.0" r="2.7"/><circle cx="1205.0" cy="436.0" r="2.7"/><circle cx="1205.0" cy="439.0" r="2.7"/><circle cx="1205.0" cy="441.9" r="2.7"/><circle cx="1205.0" cy="444.9" r="2.7"/><circle cx="1205.0" cy="447.9" r="2.7"/><circle cx="1205.0" cy="450.9" r="2.7"/><circle cx="1205.0" cy="453.5" r="2.7"/><circle cx="1205.0" cy="456.9" r="2.7"/><circle cx="1205.0" cy="460.9" r="2.7"/><circle cx="1205.0" cy="463.9" r="2.7"/><circle cx="1205.0" cy="466.9" r="2.7"/><circle cx="1205.0" cy="469.9" r="2.7"/><circle cx="1205.0" cy="472.9" r="2.7"/><circle cx="1205.0" cy="475.9" r="2.7"/><circle cx="1205.0" cy="478.9" r="2.7"/><circle cx="1205.0" cy="481.9" r="2.7"/><circle cx="1205.0" cy="485.9" r="2.7"/><circle cx="1205.0" cy="489.9" r="2.7"/><circle cx="1205.0" cy="492.8" r="2.7"/><circle cx="1205.0" cy="495.8" r="2.7"/><circle cx="1205.0" cy="512.4" r="2.7"/><circle cx="1205.0" cy="514.2" r="2.7"/><circle cx="1256.3" cy="371.4" r="2.7"/><circle cx="1256.3" cy="373.8" r="2.7"/><circle cx="1256.3" cy="378.8" r="2.7"/><circle cx="1256.3" cy="388.4" r="2.7"/><circle cx="1256.3" cy="395.8" r="2.7"/><circle cx="1256.3" cy="397.8" r="2.7"/><circle cx="1256.3" cy="405.2" r="2.7"/><circle cx="1256.3" cy="410.8" r="2.7"/><circle cx="1256.3" cy="416.7" r="2.7"/><circle cx="1256.3" cy="420.7" r="2.7"/><circle cx="1256.3" cy="424.0" r="2.7"/><circle cx="1256.3" cy="427.0" r="2.7"/><circle cx="1256.3" cy="430.0" r="2.7"/><circle cx="1256.3" cy="434.0" r="2.7"/><circle cx="1256.3" cy="437.0" r="2.7"/><circle cx="1256.3" cy="440.0" r="2.7"/><circle cx="1256.3" cy="442.9" r="2.7"/><circle cx="1256.3" cy="445.9" r="2.7"/><circle cx="1256.3" cy="448.9" r="2.7"/><circle cx="1256.3" cy="451.9" r="2.7"/><circle cx="1256.3" cy="454.9" r="2.7"/><circle cx="1256.3" cy="457.9" r="2.7"/><circle cx="1256.3" cy="460.9" r="2.7"/><circle cx="1256.3" cy="465.5" r="2.7"/><circle cx="1256.3" cy="468.9" r="2.7"/><circle cx="1256.3" cy="471.9" r="2.7"/><circle cx="1256.3" cy="474.9" r="2.7"/><circle cx="1256.3" cy="477.9" r="2.7"/><circle cx="1256.3" cy="480.9" r="2.7"/><circle cx="1256.3" cy="483.9" r="2.7"/><circle cx="1256.3" cy="486.9" r="2.7"/><circle cx="1256.3" cy="497.8" r="2.7"/><circle cx="1256.3" cy="502.2" r="2.7"/><circle cx="1307.5" cy="395.9" r="2.7"/><circle cx="1307.5" cy="405.5" r="2.7"/><circle cx="1307.5" cy="415.9" r="2.7"/><circle cx="1307.5" cy="418.9" r="2.7"/><circle cx="1307.5" cy="422.3" r="2.7"/><circle cx="1307.5" cy="425.9" r="2.7"/><circle cx="1307.5" cy="428.9" r="2.7"/><circle cx="1307.5" cy="432.9" r="2.7"/><circle cx="1307.5" cy="435.9" r="2.7"/><circle cx="1307.5" cy="438.9" r="2.7"/><circle cx="1307.5" cy="441.9" r="2.7"/><circle cx="1307.5" cy="444.9" r="2.7"/><circle cx="1307.5" cy="447.8" r="2.7"/><circle cx="1307.5" cy="450.8" r="2.7"/><circle cx="1307.5" cy="453.8" r="2.7"/><circle cx="1307.5" cy="456.8" r="2.7"/><circle cx="1307.5" cy="459.8" r="2.7"/><circle cx="1307.5" cy="462.8" r="2.7"/><circle cx="1307.5" cy="465.8" r="2.7"/><circle cx="1307.5" cy="468.8" r="2.7"/><circle cx="1307.5" cy="479.4" r="2.7"/><circle cx="1307.5" cy="482.8" r="2.7"/><circle cx="1307.5" cy="485.8" r="2.7"/><circle cx="1307.5" cy="494.2" r="2.7"/><circle cx="1307.5" cy="503.7" r="2.7"/><circle cx="1358.8" cy="395.5" r="2.7"/><circle cx="1358.8" cy="400.9" r="2.7"/><circle cx="1358.8" cy="418.9" r="2.7"/><circle cx="1358.8" cy="425.9" r="2.7"/><circle cx="1358.8" cy="432.9" r="2.7"/><circle cx="1358.8" cy="439.5" r="2.7"/><circle cx="1358.8" cy="446.8" r="2.7"/><circle cx="1358.8" cy="451.8" r="2.7"/><circle cx="1358.8" cy="456.8" r="2.7"/><circle cx="1358.8" cy="460.8" r="2.7"/><circle cx="1358.8" cy="482.4" r="2.7"/><circle cx="1358.8" cy="485.8" r="2.7"/><circle cx="1358.8" cy="489.8" r="2.7"/><circle cx="1358.8" cy="493.4" r="2.7"/><circle cx="1358.8" cy="507.8" r="2.7"/><circle cx="1410.1" cy="406.5" r="2.7"/><circle cx="1410.1" cy="412.5" r="2.7"/><circle cx="1410.1" cy="425.3" r="2.7"/><circle cx="1410.1" cy="432.5" r="2.7"/><circle cx="1410.1" cy="439.9" r="2.7"/><circle cx="1410.1" cy="441.9" r="2.7"/><circle cx="1410.1" cy="451.2" r="2.7"/><circle cx="1410.1" cy="462.8" r="2.7"/><circle cx="1410.1" cy="464.2" r="2.7"/><circle cx="1461.4" cy="453.8" r="2.7"/><circle cx="1461.4" cy="460.4" r="2.7"/><circle cx="1512.7" cy="481.7" r="2.7"/></g>
<clipPath id="cr"><rect x="897.9" y="0" width="615.3" height="661"/></clipPath>
<line class="tr" clip-path="url(#cr)" x1="894.4" y1="352.4" x2="1516.6" y2="509.8"/>
</svg>
</body></html>
